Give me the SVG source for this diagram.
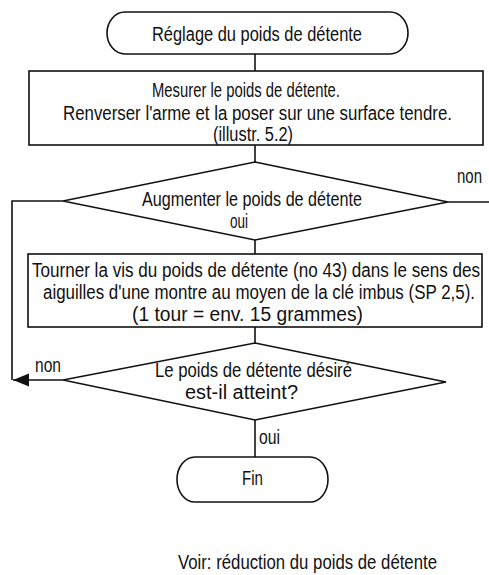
<svg xmlns="http://www.w3.org/2000/svg" width="489" height="575" viewBox="0 0 489 575">
<style>
.t{font-family:"Liberation Sans",Arial,sans-serif;font-size:19.5px;fill:#111}
.s{fill:#fff;stroke:#111;stroke-width:1.6}
.c{fill:none;stroke:#111;stroke-width:1.6}
</style>
<defs>
<marker id="ah" markerUnits="userSpaceOnUse" markerWidth="18" markerHeight="14" refX="16" refY="6.5" orient="auto">
<path d="M0,0 L16,6.5 L0,13 Z" fill="#111"/>
</marker>
</defs>
<rect width="489" height="575" fill="#fff"/>
<g id="connectors">
<line class="c" x1="255" y1="54" x2="255" y2="71"/>
<line class="c" x1="255" y1="145" x2="255" y2="162"/>
<line class="c" x1="448" y1="202" x2="489" y2="202"/>
<polyline class="c" points="63,201 12,201 12,380"/>
<line class="c" x1="255" y1="240" x2="255" y2="254"/>
<line class="c" x1="255" y1="327" x2="255" y2="343"/>
<line class="c" x1="63" y1="380" x2="13" y2="380" marker-end="url(#ah)"/>
<line class="c" x1="255" y1="420" x2="255" y2="457"/>
<text class="t" transform="scale(0.82,1)" x="557.32" y="183" textLength="30.49" lengthAdjust="spacingAndGlyphs">non</text>
<text class="t" transform="scale(0.82,1)" x="42.68" y="372" textLength="31.71" lengthAdjust="spacingAndGlyphs">non</text>
<text class="t" transform="scale(0.82,1)" x="315.85" y="444" textLength="25.61" lengthAdjust="spacingAndGlyphs">oui</text>
</g>
<g id="start">
<rect class="s" x="107" y="12" width="301" height="42" rx="18" ry="21"/>
<text class="t" transform="scale(0.82,1)" x="185.37" y="41.5" textLength="256.1" lengthAdjust="spacingAndGlyphs">Réglage du poids de détente</text>
</g>
<g id="measure">
<rect class="s" x="29" y="71" width="454" height="74"/>
<text class="t" transform="scale(0.82,1)" x="185.37" y="97" textLength="229.27" lengthAdjust="spacingAndGlyphs">Mesurer le poids de détente.</text>
<text class="t" transform="scale(0.82,1)" x="76.83" y="120.5" textLength="474.39" lengthAdjust="spacingAndGlyphs">Renverser l'arme et la poser sur une surface tendre.</text>
<text class="t" transform="scale(0.82,1)" x="259.76" y="141" textLength="97.56" lengthAdjust="spacingAndGlyphs">(illustr. 5.2)</text>
</g>
<g id="decision1">
<polygon class="s" points="255,162 448,202 255,240 63,201"/>
<text class="t" transform="scale(0.82,1)" x="173.17" y="206" textLength="268.29" lengthAdjust="spacingAndGlyphs">Augmenter le poids de détente</text>
<text class="t" transform="scale(0.82,1)" x="280.49" y="228" textLength="21.95" lengthAdjust="spacingAndGlyphs">oui</text>
</g>
<g id="turn">
<rect class="s" x="28" y="254" width="454" height="73"/>
<text class="t" transform="scale(0.82,1)" x="39.02" y="277" textLength="546.34" lengthAdjust="spacingAndGlyphs">Tourner la vis du poids de détente (no 43) dans le sens des</text>
<text class="t" transform="scale(0.82,1)" x="52.44" y="299.5" textLength="526.83" lengthAdjust="spacingAndGlyphs">aiguilles d'une montre au moyen de la clé imbus (SP 2,5).</text>
<text class="t" transform="scale(0.82,1)" x="160.98" y="321.5" textLength="281.71" lengthAdjust="spacingAndGlyphs">(1 tour = env. 15 grammes)</text>
</g>
<g id="decision2">
<polygon class="s" points="255,343 446,382 255,420 63,380"/>
<text class="t" transform="scale(0.82,1)" x="189.02" y="377" textLength="240.24" lengthAdjust="spacingAndGlyphs">Le poids de détente désiré</text>
<text class="t" transform="scale(0.82,1)" x="225.61" y="399" textLength="137.8" lengthAdjust="spacingAndGlyphs">est-il atteint?</text>
</g>
<g id="end">
<rect class="s" x="177" y="457" width="151" height="45" rx="18" ry="22.5"/>
<text class="t" transform="scale(0.82,1)" x="295.12" y="485" textLength="25.61" lengthAdjust="spacingAndGlyphs">Fin</text>
</g>
<g id="note">
<text class="t" transform="scale(0.82,1)" x="217.07" y="569" textLength="315.85" lengthAdjust="spacingAndGlyphs">Voir: réduction du poids de détente</text>
</g>
</svg>
